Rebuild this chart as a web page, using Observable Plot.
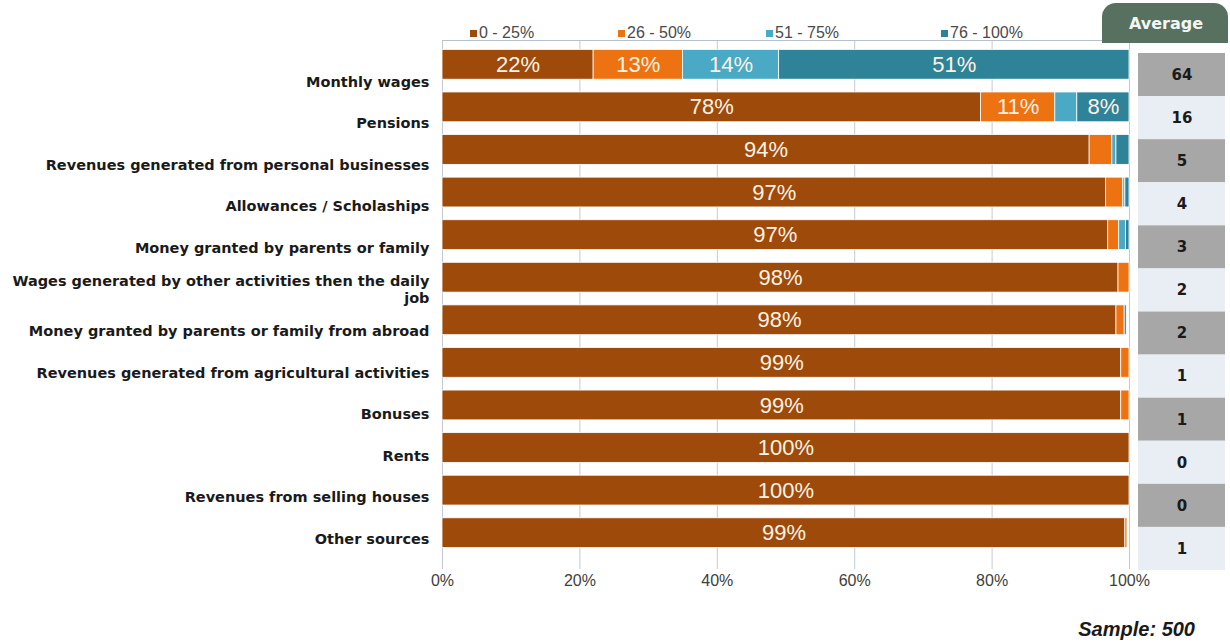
<!DOCTYPE html>
<html>
<head>
<meta charset="utf-8">
<script src="https://cdn.jsdelivr.net/npm/d3@7"></script>
<script src="https://cdn.jsdelivr.net/npm/@observablehq/plot@0.6"></script>
<style>
  html, body { margin: 0; padding: 0; background: #fff; }
  #wrap { position: relative; width: 1230px; height: 643px; overflow: hidden; font-family: "Liberation Sans", Arial, sans-serif; }
  #main, #avg, #labels { position: absolute; top: 0; }
  #main { left: 0; }
  #labels { left: 0; }
  #avg { left: 1130px; }
  .legend-item { position: absolute; top: 24px; font-size: 16px; color: #4a4a4a; white-space: nowrap; line-height: 18px; }
  .legend-item span.sw { display: inline-block; width: 7px; height: 7px; margin-right: 2px; vertical-align: 1px; }
  #tab { position: absolute; left: 1102px; top: 3px; width: 126px; height: 40px; background: #587060; border-radius: 14px 14px 0 0; color: #f2f7f2; font: bold 16px "DejaVu Sans", Verdana, sans-serif; text-align: center; line-height: 42px; box-sizing: border-box; padding-left: 2px; }
  #sample { position: absolute; right: 35px; top: 618px; font: italic bold 20px "Liberation Sans", Arial, sans-serif; color: #1a1a1a; }
</style>
</head>
<body>
<div id="wrap">
  <div id="main"></div>
  <div id="labels"></div>
  <div id="tab">Average</div>
  <div id="avg"></div>
  <div id="legend"></div>
  <div id="sample">Sample: 500</div>
</div>
<script>
// ---- data ----
const categories = [
  "Monthly wages",
  "Pensions",
  "Revenues generated from personal businesses",
  "Allowances / Scholaships",
  "Money granted by parents or family",
  "Wages generated by other activities then the daily job",
  "Money granted by parents or family from abroad",
  "Revenues generated from agricultural activities",
  "Bonuses",
  "Rents",
  "Revenues from selling houses",
  "Other sources"
];
const tickLabels = [
  "Monthly wages",
  "Pensions",
  "Revenues generated from personal businesses",
  "Allowances / Scholaships",
  "Money granted by parents or family",
  "Wages generated by other activities then the daily\njob",
  "Money granted by parents or family from abroad",
  "Revenues generated from agricultural activities",
  "Bonuses",
  "Rents",
  "Revenues from selling houses",
  "Other sources"
];
const bands = ["0 - 25%", "26 - 50%", "51 - 75%", "76 - 100%"];
const colors = ["#9E4A0B", "#EC7212", "#4AAAC6", "#2F8399"];
const share0to25   = [22, 78.4, 94.2, 96.6, 96.9, 98.4, 98.1, 98.8, 98.8, 100, 100, 99.4];
const share26to50  = [13, 10.8, 3.3, 2.5, 1.6, 1.6, 1.2, 1.2, 1.2, 0, 0, 0.3];
const share51to75  = [14, 3.2, 0.6, 0.3, 1.0, 0, 0, 0, 0, 0, 0, 0];
const share76to100 = [51, 7.6, 1.9, 0.6, 0.5, 0, 0.3, 0, 0, 0, 0, 0];
const averages = [64, 16, 5, 4, 3, 2, 2, 1, 1, 0, 0, 1];
const xTicks = [0, 20, 40, 60, 80, 100];

// ---- build table ----
const series = [share0to25, share26to50, share51to75, share76to100];
const rows = [];
categories.forEach((c, i) => {
  series.forEach((s, j) => rows.push({cat: c, band: bands[j], value: s[i]}));
});
const labelOf = new Map(categories.map((c, i) => [c, tickLabels[i]]));

const main = Plot.plot({
  width: 1230,
  height: 643,
  marginLeft: 442,
  marginRight: 101,
  marginTop: 43,
  marginBottom: 89,
  style: {fontFamily: "Liberation Sans, Arial, sans-serif", background: "transparent"},
  x: {domain: [0, 100], axis: null},
  y: {domain: categories, paddingInner: 0.3, paddingOuter: 0.15, round: false, axis: null},
  color: {domain: bands, range: colors},
  marks: [
    Plot.ruleX(xTicks, {stroke: "#C3CAD6", strokeWidth: 1, insetTop: -3, insetBottom: -15}),
    Plot.frame({anchor: "top", stroke: "#B7C0CE", insetTop: -3}),
    Plot.barX(rows, Plot.stackX({y: "cat", x: "value", fill: "band", stroke: "#fff", strokeWidth: 0.8})),
    Plot.text(rows, Plot.stackX({
      y: "cat", x: "value",
      text: d => d.value >= 5 ? d3.format(".0f")(d.value) + "%" : null,
      fill: "#FFF2E4", fontSize: 22
    })),
    Plot.axisX({
      ticks: xTicks, tickSize: 0, tickPadding: 20, tickFormat: d => d + "%",
      fontSize: 16, fill: "#404040", label: null
    })
  ]
});
document.getElementById("main").appendChild(main);

// ---- category labels (own evenly spaced rows, as in the reference) ----
const labelPlot = Plot.plot({
  width: 442,
  height: 643,
  marginLeft: 0,
  marginRight: 13,
  marginTop: 79,
  marginBottom: 107,
  style: {background: "transparent"},
  y: {type: "point", domain: categories, padding: 0, round: false, axis: null},
  marks: [
    Plot.text(categories, {
      y: d => d, text: d => labelOf.get(d), frameAnchor: "right", textAnchor: "end",
      fontSize: 14.5, fontWeight: "bold", fill: "#1a1a1a", lineHeight: 1.15, dy: 2,
      fontFamily: "DejaVu Sans, Verdana, sans-serif"
    })
  ]
});
document.getElementById("labels").appendChild(labelPlot);

// ---- Average column ----
const avgRows = categories.map((c, i) => ({cat: c, avg: averages[i], shade: i % 2 === 0 ? "dark" : "light"}));
const avgPlot = Plot.plot({
  width: 100,
  height: 643,
  marginLeft: 8,
  marginRight: 5,
  marginTop: 53,
  marginBottom: 73,
  style: {background: "transparent"},
  y: {domain: categories, padding: 0, round: false, axis: null},
  color: {domain: ["dark", "light"], range: ["#A7A7A7", "#E9EDF4"]},
  marks: [
    Plot.cell(avgRows, {y: "cat", fill: "shade"}),
    Plot.text(avgRows, {y: "cat", text: "avg", fontSize: 15, fontWeight: "bold", fill: "#1a1a1a",
      fontFamily: "DejaVu Sans, Verdana, sans-serif"})
  ]
});
document.getElementById("avg").appendChild(avgPlot);

// ---- Legend ----
const legendLeft = [470, 618, 766, 941];
const legend = document.getElementById("legend");
bands.forEach((b, i) => {
  const item = document.createElement("div");
  item.className = "legend-item";
  item.style.left = legendLeft[i] + "px";
  const sw = document.createElement("span");
  sw.className = "sw";
  sw.style.background = colors[i];
  item.appendChild(sw);
  item.appendChild(document.createTextNode(b));
  legend.appendChild(item);
});
</script>
</body>
</html>
